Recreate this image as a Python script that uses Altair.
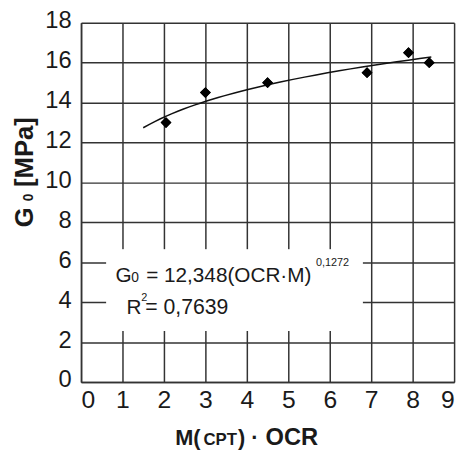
import altair as alt
import pandas as pd

# Data
x_vals = [2.05, 3.0, 4.5, 6.9, 7.9, 8.4]
y_vals = [13.0, 14.5, 15.0, 15.5, 16.5, 16.0]
x_ticks = [0, 1, 2, 3, 4, 5, 6, 7, 8, 9]
y_ticks = [0, 2, 4, 6, 8, 10, 12, 14, 16, 18]
fit_extent = [1.5, 8.45]

df = pd.DataFrame({"x": x_vals, "y": y_vals})

FONT = "Liberation Sans"
INK = "#1a1a1a"
GRID = "#333333"

xs = alt.Scale(domain=[0, 9], nice=False, zero=False)
ys = alt.Scale(domain=[0, 18], nice=False, zero=False)

base = alt.Chart(df)

points = base.mark_point(shape="diamond", filled=True, size=120, color="black", opacity=1).encode(
    x=alt.X("x:Q", scale=xs, axis=alt.Axis(
        values=x_ticks, title=None, grid=True, ticks=False, labelPadding=6,
        labelFontSize=25, labelFont=FONT, labelColor=INK,
        gridColor=GRID, gridWidth=1.5, domainColor=GRID, domainWidth=1.5)),
    y=alt.Y("y:Q", scale=ys, axis=alt.Axis(
        values=y_ticks, title=None, grid=True, ticks=False, labelPadding=10,
        labelFontSize=24, labelFont=FONT, labelColor=INK, labelOffset=-2,
        gridColor=GRID, gridWidth=1.5, domainColor=GRID, domainWidth=1.5)),
)

box = base.mark_rect(color="white").encode(
    x=alt.value(26), x2=alt.value(285), y=alt.value(230), y2=alt.value(312)
)

fit = base.transform_regression("x", "y", method="pow", extent=fit_extent).mark_line(
    color="#111111", strokeWidth=1.5
).encode(x=alt.X("x:Q", scale=xs), y=alt.Y("y:Q", scale=ys))


def txt(s, x, y, size, bold=False, align="left", angle=0, baseline="alphabetic"):
    props = dict(text=s, fontSize=size, font=FONT, color=INK, align=align, baseline=baseline)
    if bold:
        props["fontWeight"] = "bold"
    if angle:
        props["angle"] = angle
    return alt.Chart(df).transform_filter("datum.x == 2.05").mark_text(**props).encode(
        x=alt.value(x), y=alt.value(y)
    )


texts = [
    # equation
    txt("G", 35, 263, 21),
    txt("0", 51, 263, 14),
    txt("= 12,348(OCR·M)", 66, 263, 21),
    txt("0,1272", 238, 246, 11),
    txt("R", 46, 295, 21),
    txt("2", 61, 282, 11),
    txt("= 0,7639", 65, 295, 21.5),
    # x title
    txt("M(", 121, 428, 22, bold=True, align="right"),
    txt("CPT", 141, 428, 17, bold=True, align="center"),
    txt(")", 159, 428, 22, bold=True, align="left"),
    txt("·", 176, 428, 22, bold=True, align="center"),
    txt("OCR", 187, 428, 24, bold=True, align="left"),
    # y title
    txt("G", -49, 197, 26, bold=True, align="center", angle=270),
    txt("0", -49, 177, 14, bold=True, align="center", angle=270),
    txt("[MPa]", -49, 131, 26, bold=True, align="center", angle=270),
]

chart = alt.layer(points, box, fit, points.encode(), *texts).properties(
    width=378, height=364,
    padding={"left": 74, "top": 12, "right": 8, "bottom": 70},
    autosize="none",
).configure_view(stroke=None)

chart.save("out.html", embed_options={"renderer": "svg", "actions": False})
